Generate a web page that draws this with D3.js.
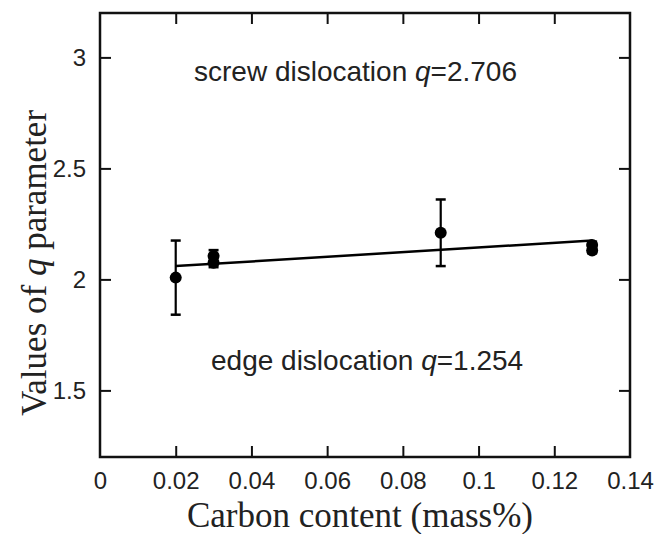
<!DOCTYPE html>
<html>
<head>
<meta charset="utf-8">
<script src="https://cdn.jsdelivr.net/npm/d3@7.9.0/dist/d3.min.js"></script>
<style>
  body { margin: 0; background: #fff; }
  svg { display: block; }
</style>
</head>
<body>
<div id="chart"></div>
<script>
// --- DATA ---
const carbon = [0.02, 0.03, 0.03, 0.09, 0.13, 0.13];
const qValues = [2.008, 2.105, 2.075, 2.21, 2.155, 2.13];
const qErrors = [0.167, 0.027, 0.02, 0.15, 0.015, 0.012];
const fitX = [0.02, 0.13];
const fitY = [2.06, 2.175];
const xTicks = [0, 0.02, 0.04, 0.06, 0.08, 0.1, 0.12, 0.14];
const yTicks = [1.5, 2, 2.5, 3];

const width = 657, height = 534;
const margin = { top: 13, right: 27, bottom: 77, left: 100 };
const plotW = width - margin.left - margin.right;
const plotH = height - margin.top - margin.bottom;

const svg = d3.select('#chart').append('svg')
    .attr('width', width)
    .attr('height', height);

const g = svg.append('g').attr('transform', `translate(${margin.left},${margin.top})`);

const x = d3.scaleLinear().domain([0, 0.14]).range([0, plotW]);
const y = d3.scaleLinear().domain([1.2, 3.2]).range([plotH, 0]);

const sans = '"Liberation Sans", Arial, sans-serif';
const serif = '"Liberation Serif", "Times New Roman", serif';

// axes with inward ticks
function styleAxis(sel) {
    sel.select('.domain').remove();
    sel.selectAll('line').attr('stroke', '#111').attr('stroke-width', 2);
    sel.selectAll('text').attr('fill', '#222').style('font-family', sans).style('font-size', '24px');
}

g.append('g')
    .attr('transform', `translate(0,${plotH})`)
    .call(d3.axisBottom(x).tickValues(xTicks).tickSize(-11).tickPadding(15).tickFormat(d => d === 0 ? '0' : String(+d.toFixed(2))))
    .call(styleAxis)
    .call(s => s.selectAll('.tick').filter(d => d === 0 || d === 0.14).select('line').remove());

g.append('g')
    .call(d3.axisTop(x).tickValues(xTicks.slice(1, -1)).tickSize(-11).tickFormat(''))
    .call(styleAxis);

g.append('g')
    .call(d3.axisLeft(y).tickValues(yTicks).tickSize(-11).tickPadding(14).tickFormat(d => String(d)))
    .call(styleAxis);

g.append('g')
    .attr('transform', `translate(${plotW},0)`)
    .call(d3.axisRight(y).tickValues(yTicks).tickSize(-11).tickFormat(''))
    .call(styleAxis);

// frame
g.append('rect')
    .attr('width', plotW).attr('height', plotH)
    .attr('fill', 'none').attr('stroke', '#111').attr('stroke-width', 2.5);

// fit line
g.append('path')
    .datum(fitX.map((d, i) => [d, fitY[i]]))
    .attr('d', d3.line().x(d => x(d[0])).y(d => y(d[1])))
    .attr('fill', 'none').attr('stroke', '#000').attr('stroke-width', 2.5);

// error bars + points
const pts = carbon.map((c, i) => ({ c, q: qValues[i], e: qErrors[i] }));
const eb = g.append('g').attr('stroke', '#000').attr('stroke-width', 2.2);
pts.forEach(p => {
    const cx = x(p.c);
    eb.append('line').attr('x1', cx).attr('x2', cx).attr('y1', y(p.q - p.e)).attr('y2', y(p.q + p.e));
    [p.q - p.e, p.q + p.e].forEach(v => {
        eb.append('line').attr('x1', cx - 5).attr('x2', cx + 5).attr('y1', y(v)).attr('y2', y(v)).attr('stroke-width', 2.5);
    });
});
g.append('g').selectAll('circle').data(pts).join('circle')
    .attr('cx', d => x(d.c)).attr('cy', d => y(d.q)).attr('r', 6).attr('fill', '#000');

// annotations
function annotate(label, val, tx, ty) {
    const t = g.append('text')
        .attr('x', tx).attr('y', ty)
        .attr('fill', '#222')
        .style('font-family', sans).style('font-size', '28px');
    t.append('tspan').text(label + ' ');
    t.append('tspan').style('font-style', 'italic').text('q');
    t.append('tspan').text('=' + val);
}
annotate('screw dislocation', '2.706', 94, 68);
annotate('edge dislocation', '1.254', 111, 357);

// axis titles
svg.append('text')
    .attr('x', 360).attr('y', 527)
    .attr('text-anchor', 'middle')
    .attr('fill', '#222')
    .style('font-family', serif).style('font-size', '35px')
    .text('Carbon content (mass%)');

const yt = svg.append('text')
    .attr('transform', `translate(46,263) rotate(-90)`)
    .attr('text-anchor', 'middle')
    .attr('fill', '#222')
    .style('font-family', serif).style('font-size', '35px');
yt.append('tspan').text('Values of ');
yt.append('tspan').style('font-style', 'italic').text('q');
yt.append('tspan').text(' parameter');
</script>
</body>
</html>
